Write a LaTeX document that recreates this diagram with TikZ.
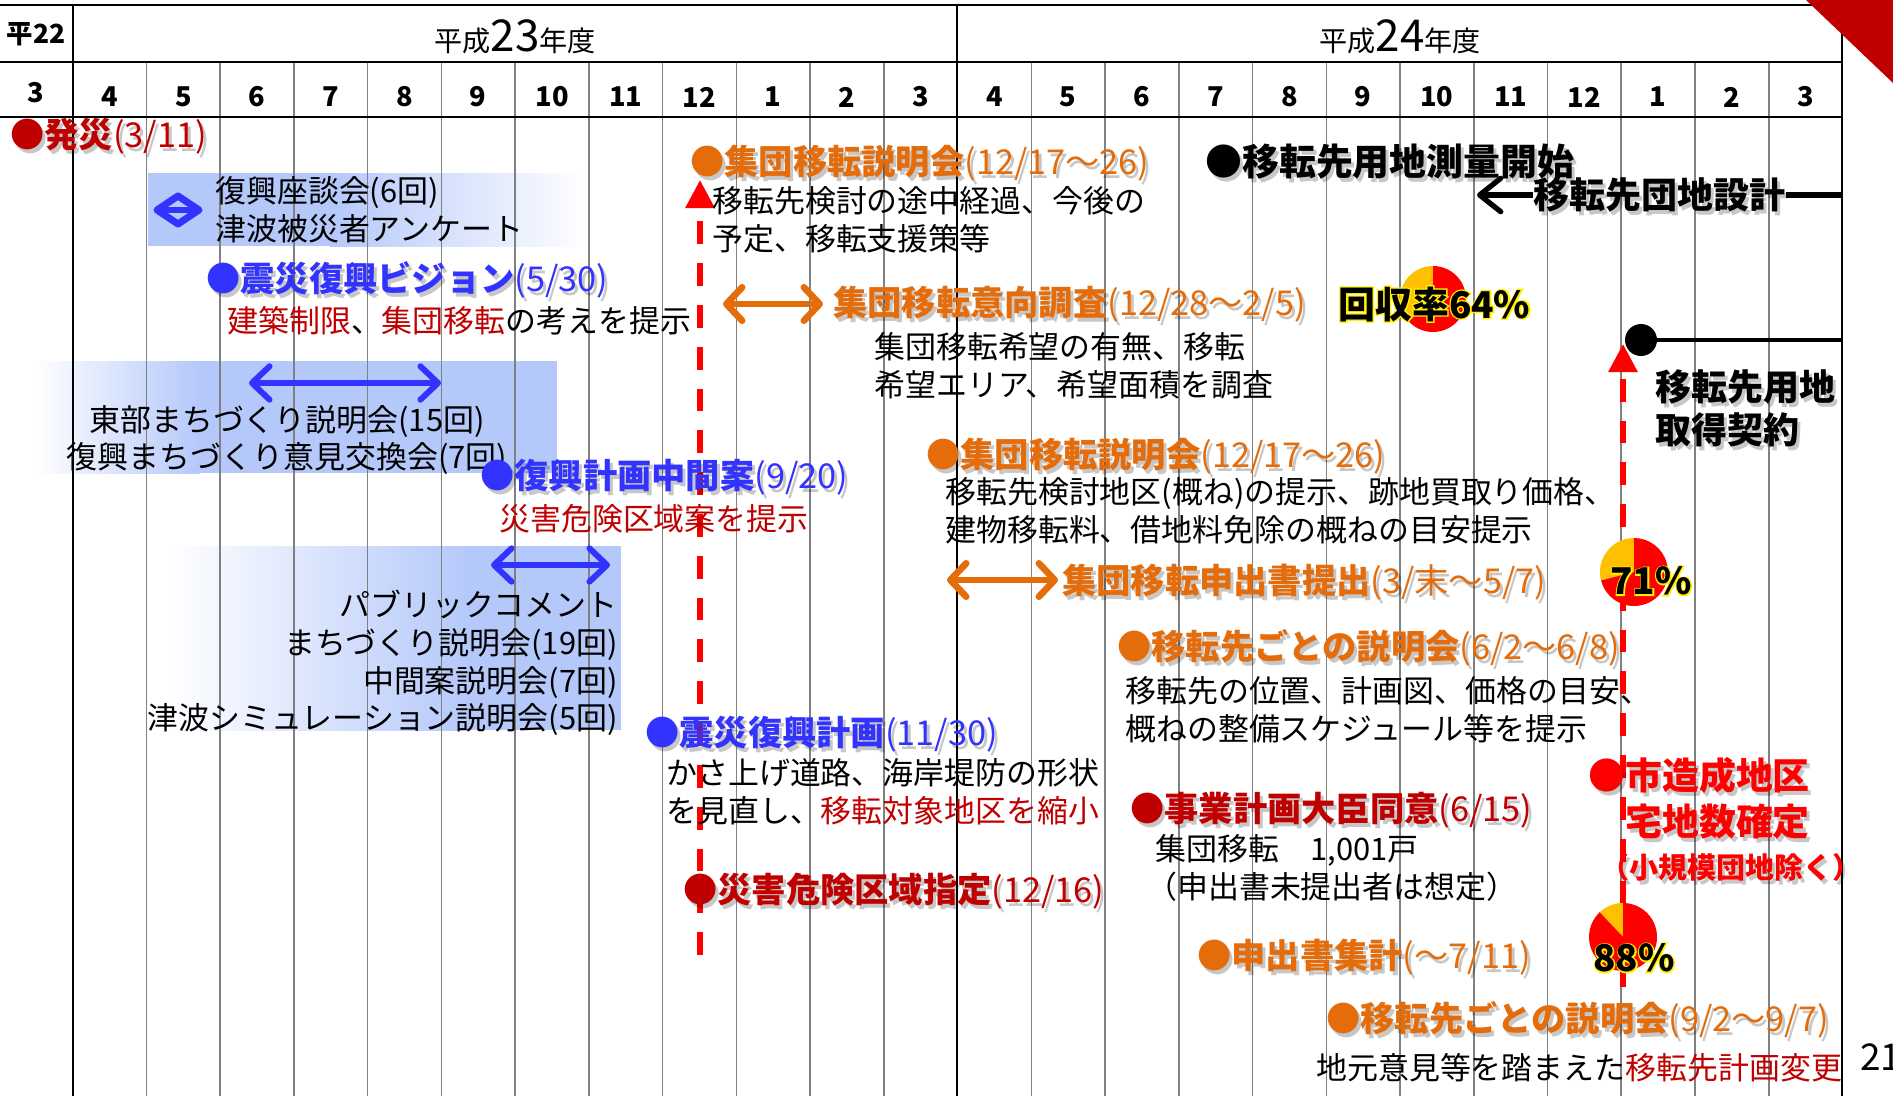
\documentclass[tikz,border=0pt]{standalone}
\usepackage{fontspec}
\setmainfont{Noto Sans CJK JP}
\usetikzlibrary{arrows.meta}

\definecolor{dkred}{RGB}{192,0,0}
\definecolor{brred}{RGB}{255,0,0}
\definecolor{orng}{RGB}{228,108,10}
\definecolor{blu}{RGB}{51,51,255}
\definecolor{boxblue}{RGB}{180,200,250}
\definecolor{gridgray}{RGB}{128,128,128}
\definecolor{pieyel}{RGB}{255,192,0}

\tikzset{
  head/.style={font=\bfseries\fontsize{19.5}{22}\selectfont, inner sep=0pt, anchor=west},
  body/.style={font=\fontsize{17.6}{21.5}\selectfont, inner sep=0pt, anchor=west, align=left},
  shadowcopy/.style={text=black, opacity=0.22, xshift=0.06cm, yshift=-0.08cm},
  pct/.style={font=\bfseries\fontsize{21}{24}\selectfont, inner sep=0pt, anchor=west},
  month/.style={font=\bfseries\fontsize{15.5}{18}\selectfont, inner sep=0pt},
  gridline/.style={gridgray, line width=0.9pt},
  yearline/.style={black, line width=1.3pt},
  bluearrow/.style={blu, line width=3.4pt,
    {Straight Barb[length=10pt,width=19pt,round]}-{Straight Barb[length=10pt,width=19pt,round]}},
  orangearrow/.style={orng, line width=3.8pt,
    {Straight Barb[length=9pt,width=19pt,round]}-{Straight Barb[length=9pt,width=19pt,round]}},
  blackline/.style={black, line width=3pt},
  redguide/.style={brred, line width=3.4pt, dash pattern=on 13pt off 10.8pt,
    -{Triangle[length=16pt,width=16pt]}},
}

% labels with a soft drop shadow
\newcommand{\evlabel}[5][]{%
  \node[head, #1, shadowcopy] at (#3) {#5};
  \node[head, #1, text=#4] (#2) at (#3) {#5};}
% labels with a yellow glow
\newcommand{\glowlabel}[3]{%
  \node[pct, text=yellow] at (#2) {\addfontfeature{FakeBold=7}#3};
  \node[pct] (#1) at (#2) {#3};}

\begin{document}
\begin{tikzpicture}[x=0.02cm, y=-0.02cm]
\useasboundingbox (0,0) rectangle (1893,1096);
\fill[white] (0,0) rectangle (1893,1096);

% shaded boxes
\fill[boxblue] (148,173) rectangle (330,246);
\shade[left color=boxblue, right color=white] (330,173) rectangle (588,246);
\shade[left color=white, right color=boxblue] (34,361) rectangle (200,473);
\fill[boxblue] (200,361) rectangle (557,473);
\shade[left color=white, right color=boxblue] (170,546) rectangle (470,730);
\fill[boxblue] (470,546) rectangle (621,730);

% grid
\foreach \k in {1,...,11,13,14,...,23}
  \draw[gridline] ({72.7+\k*73.74},62) -- ({72.7+\k*73.74},1096);
\draw[yearline] (72.7,5) -- (72.7,1096);
\draw[yearline] (957,5) -- (957,1096);
\draw[yearline] (1842,5) -- (1842,1096);
\draw[yearline] (0,5) -- (1842,5);
\draw[yearline] (0,62) -- (1842,62);
\draw[yearline] (0,117) -- (1842,117);

\node[font=\bfseries\fontsize{15}{18}\selectfont, inner sep=0pt] (h22) at (36,34) {平22};
\node[font=\fontsize{16}{20}\selectfont, inner sep=0pt] (h23) at (515,37) {平成{\fontsize{25}{28}\selectfont 23}年度};
\node[font=\fontsize{16}{20}\selectfont, inner sep=0pt] (h24) at (1400,37) {平成{\fontsize{25}{28}\selectfont 24}年度};
\node[month] (m0) at (36,93) {3};
\foreach \m [count=\i] in {4,5,6,7,8,9,10,11,12,1,2,3,4,5,6,7,8,9,10,11,12,1,2,3}
  \node[month] (m\i) at ({72.7+(\i-0.5)*73.74},97) {\m};

\fill[dkred] (1806,0) -- (1893,0) -- (1893,83) -- cycle;
\node[font=\fontsize{21}{24}\selectfont, anchor=west, inner sep=0pt] (pg) at (1860,1057) {21};

% red guide lines
\coordinate (g1bot) at (700,955);
\coordinate (g1top) at (700,180);
\draw[redguide] (g1bot) -- (g1top);
\coordinate (g2bot) at (1623,987);
\coordinate (g2top) at (1623,344);
\draw[redguide] (g2bot) -- (g2top);

% city side (left)
\draw[blu, line width=4pt, line join=round] (157,210) -- (178,196) -- (199,210) -- (178,224) -- cycle;
\draw[blu, line width=3pt] (157,210) -- (199,210);
\node[body] (zadan) at (215,210) {復興座談会(6回)\\津波被災者アンケート};

\evlabel{hassai}{10,136}{dkred}{●発災\mdseries(3/11)}
\evlabel{vision}{206,280}{blu}{●震災復興ビジョン\mdseries(5/30)}
\node[body] (visiontx) at (227,321) {\textcolor{dkred}{建築制限}、\textcolor{dkred}{集団移転}の考えを提示};

\coordinate (tb1) at (249,383);
\coordinate (tb2) at (441,383);
\draw[bluearrow] (tb1) -- (tb2);
\node[body, align=center, anchor=center] (tobu) at (287,440) {東部まちづくり説明会(15回)\\復興まちづくり意見交換会(7回)};

\evlabel{chukan}{480,477}{blu}{●復興計画中間案\mdseries(9/20)}
\node[body, text=dkred] (chukantx) at (499,519) {災害危険区域案を提示};

\coordinate (pc1) at (491,565);
\coordinate (pc2) at (610,565);
\draw[bluearrow] (pc1) -- (pc2);
\node[body, align=right, anchor=east] (pubcom) at (618,663) {パブリックコメント\\まちづくり説明会(19回)\\中間案説明会(7回)\\津波シミュレーション説明会(5回)};

\evlabel{keikaku}{645,734}{blu}{●震災復興計画\mdseries(11/30)}
\node[body] (keikakutx) at (666,792) {かさ上げ道路、海岸堤防の形状\\を見直し、\textcolor{dkred}{移転対象地区を縮小}};
\evlabel{shitei}{683,891}{dkred}{●災害危険区域指定\mdseries(12/16)}

% relocation side (right)
\evlabel{setsu1}{690,163}{orng}{●集団移転説明会\mdseries(12/17〜26)}
\node[body] (setsu1tx) at (712,220) {移転先検討の途中経過、今後の\\予定、移転支援策等};

\coordinate (ik1) at (723,304);
\coordinate (ik2) at (823,304);
\draw[orangearrow] (ik1) -- (ik2);
\evlabel{ikou}{833,304}{orng}{集団移転意向調査\mdseries(12/28〜2/5)}
\fill[pieyel] (1433,299) -- ++(-90:33) arc[start angle=-90, end angle=-219.6, radius=33] -- cycle;
\fill[brred] (1433,299) -- ++(-219.6:33) arc[start angle=-219.6, end angle=-450, radius=33] -- cycle;
\glowlabel{kaishu}{1338,304}{回収率64\%}
\node[body] (ikoutx) at (874,366) {集団移転希望の有無、移転\\希望エリア、希望面積を調査};

\evlabel{setsu2}{926,456}{orng}{●集団移転説明会\mdseries(12/17〜26)}
\node[body] (setsu2tx) at (945,511) {移転先検討地区(概ね)の提示、跡地買取り価格、\\建物移転料、借地料免除の概ねの目安提示};

\coordinate (ms1) at (947,580);
\coordinate (ms2) at (1058,580);
\draw[orangearrow] (ms1) -- (ms2);
\evlabel{moushide}{1062,582}{orng}{集団移転申出書提出\mdseries(3/末〜5/7)}
\fill[pieyel] (1634,572) -- ++(-90:34) arc[start angle=-90, end angle=-194.4, radius=34] -- cycle;
\fill[brred] (1634,572) -- ++(-194.4:34) arc[start angle=-194.4, end angle=-450, radius=34] -- cycle;
\glowlabel{pct71}{1610,581}{71\%}

\evlabel{setsu3}{1117,648}{orng}{●移転先ごとの説明会\mdseries(6/2〜6/8)}
\node[body] (setsu3tx) at (1125,710) {移転先の位置、計画図、価格の目安、\\概ねの整備スケジュール等を提示};

\evlabel{doui}{1130,810}{dkred}{●事業計画大臣同意\mdseries(6/15)}
\node[body] (douitx) at (1146,868) {\hspace{0.3em}集団移転　1,001戸\\（申出書未提出者は想定）};

\evlabel{shukei}{1197,957}{orng}{●申出書集計\mdseries(〜7/11)}
\fill[pieyel] (1623,937) -- ++(-90:34) arc[start angle=-90, end angle=-133.2, radius=34] -- cycle;
\fill[brred] (1623,937) -- ++(-133.2:34) arc[start angle=-133.2, end angle=-450, radius=34] -- cycle;
\glowlabel{pct88}{1593,958}{88\%}

\evlabel{setsu4}{1326,1020}{orng}{●移転先ごとの説明会\mdseries(9/2〜9/7)}
\node[body] (henkou) at (1316,1068) {地元意見等を踏まえた\textcolor{dkred}{移転先計画変更}};

\evlabel[align=left, font=\bfseries\fontsize{21}{26}\selectfont]{zosei}{1625,798}{brred}{\llap{●}市造成地区\\宅地数確定}
\evlabel[font=\bfseries\fontsize{16.5}{20}\selectfont]{shokibo}{1600,867}{brred}{（小規模団地除く）}

% land for the new sites
\evlabel[font=\bfseries\fontsize{21}{24}\selectfont]{sokuryo}{1205,162}{black}{●移転先用地測量開始}
\evlabel[font=\bfseries\fontsize{20.5}{24}\selectfont]{sekkei}{1533,195}{black}{移転先団地設計}
\coordinate (skend) at (1842,195);
\coordinate (sktip) at (1477,195);
\draw[blackline] (skend) -- (sekkei.east);
\draw[blackline, -{Straight Barb[length=12pt,width=19pt,round]}] (sekkei.west) -- (sktip);

\node[circle, fill=black, inner sep=0pt, minimum size=0.64cm] (acq) at (1641,340) {};
\coordinate (acqend) at (1842,340);
\draw[black, line width=2.4pt] (acq) -- (acqend);
\evlabel[align=left, font=\bfseries\fontsize{20.5}{24.5}\selectfont]{shutoku}{1655,408}{black}{移転先用地\\取得契約}
\end{tikzpicture}
\end{document}
